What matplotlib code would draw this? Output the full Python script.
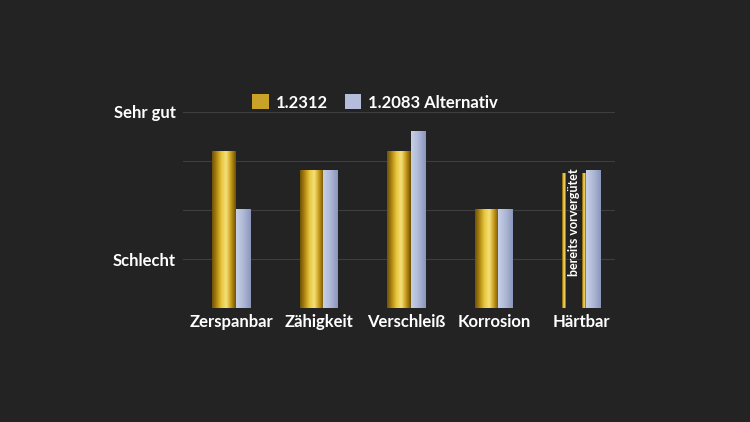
import numpy as np
import matplotlib
matplotlib.use("Agg")
import matplotlib.pyplot as plt
from matplotlib.patches import Patch

plt.rcParams["font.family"] = ["Lato", "DejaVu Sans"]

categories = ["Zerspanbar", "Zähigkeit", "Verschleiß", "Korrosion", "Härtbar"]
gold_vals = [3.2, 2.8, 3.2, 2.0, 2.75]
silver_vals = [2.0, 2.8, 3.6, 2.0, 2.8]
series_names = ["1.2312", "1.2083 Alternativ"]
ytick_vals = [1, 4]
ytick_labels = ["Schlecht", "Sehr gut"]

bg = "#232323"
gold_cmap = matplotlib.colors.LinearSegmentedColormap.from_list(
    "gold", ["#6e5206", "#b48a14", "#e8c840", "#f4e07a", "#c79a18", "#6e5206"])
silver_cmap = matplotlib.colors.LinearSegmentedColormap.from_list(
    "silver", ["#c8d0e6", "#aeb8d6", "#8a96bc"])
grad = np.linspace(0, 1, 64).reshape(1, -1)

fig = plt.figure(figsize=(7.5, 4.22), dpi=100, facecolor=bg)
ax = fig.add_axes([0.244, 0.27, 0.576, 0.465], facecolor=bg)

gw, sw = 0.27, 0.17
x = np.arange(len(categories))
for i, (g, s) in enumerate(zip(gold_vals, silver_vals)):
    gl = x[i] - 0.215
    sl = gl + gw
    if i == len(categories) - 1:
        # only outline strips for the pre-hardened bar
        for lx in (gl, gl + gw - 0.045):
            ax.imshow(grad, cmap=gold_cmap, extent=[lx, lx + 0.045, 0, g], aspect="auto", zorder=3)
        ax.text(gl + gw / 2, 1.75, "bereits vorvergütet", rotation=90, color="white",
                fontsize=9, fontweight="bold", ha="center", va="center", zorder=4)
    else:
        ax.imshow(grad, cmap=gold_cmap, extent=[gl, gl + gw, 0, g], aspect="auto", zorder=3)
    ax.imshow(grad, cmap=silver_cmap, extent=[sl, sl + sw, 0, s], aspect="auto", zorder=3)

ax.set_xlim(-0.55, 4.39)
ax.set_ylim(0, 4)
for yv in [1, 2, 3, 4]:
    ax.axhline(yv, color="#3e3e3e", linewidth=0.8, zorder=1)
ax.axhline(0, color="#3e3e3e", linewidth=0.8, zorder=1)
ax.set_yticks(ytick_vals)
ax.set_yticklabels(ytick_labels, color="white", fontsize=12, fontweight="bold")
ax.set_xticks(x - 0.215 + (gw + sw) / 2)
ax.set_xticklabels(categories, color="white", fontsize=12, fontweight="bold")
ax.tick_params(length=0, pad=4)
ax.tick_params(axis="y", pad=5)
for sp in ax.spines.values():
    sp.set_visible(False)

handles = [Patch(facecolor="#c9a22a"), Patch(facecolor="#b4bedb")]
fig.legend(handles, series_names, loc="center", bbox_to_anchor=(0.5, 0.757), ncol=2,
           frameon=False, labelcolor="white", prop={"weight": "bold", "size": 12},
           handlelength=1.0, handleheight=1.0, columnspacing=1.0, handletextpad=0.4)

fig.savefig("out.png", dpi=100, facecolor=bg)
